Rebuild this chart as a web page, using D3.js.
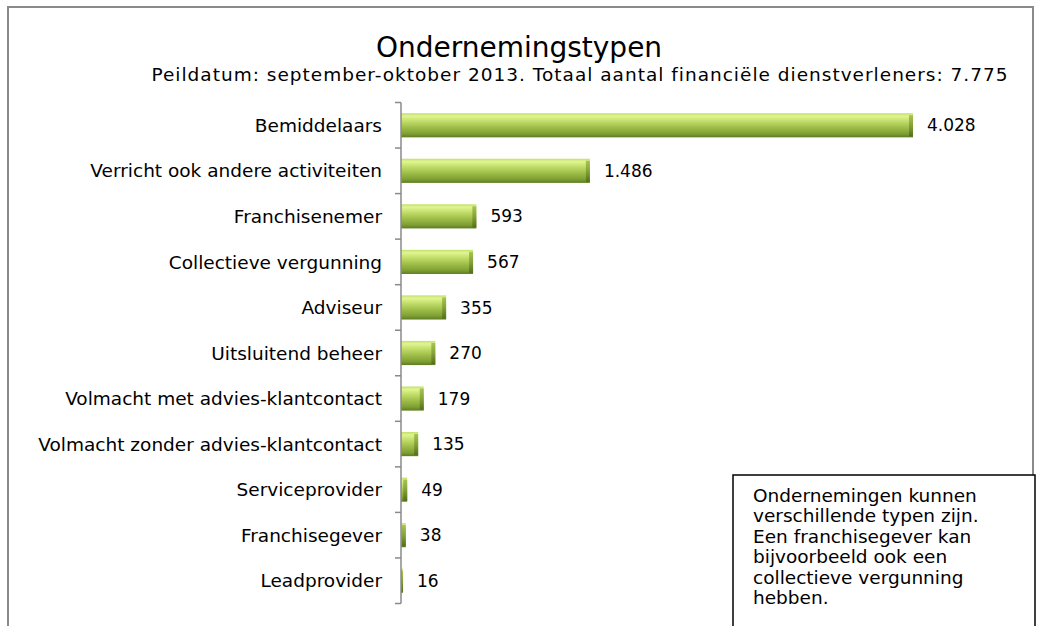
<!DOCTYPE html>
<html>
<head>
<meta charset="utf-8">
<script src="https://cdn.jsdelivr.net/npm/d3@7"></script>
<style>
  body { margin: 0; background: #fff; }
  svg text { font-family: Verdana, "DejaVu Sans", sans-serif; fill: #000; }
</style>
</head>
<body>
<svg id="chart" width="1040" height="626"></svg>
<script>
const categories = [
  "Bemiddelaars",
  "Verricht ook andere activiteiten",
  "Franchisenemer",
  "Collectieve vergunning",
  "Adviseur",
  "Uitsluitend beheer",
  "Volmacht met advies-klantcontact",
  "Volmacht zonder advies-klantcontact",
  "Serviceprovider",
  "Franchisegever",
  "Leadprovider"
];
const values = [4028, 1486, 593, 567, 355, 270, 179, 135, 49, 38, 16];
const title = "Ondernemingstypen";
const subtitle = "Peildatum: september-oktober 2013. Totaal aantal financiële dienstverleners: 7.775";
const noteLines = [
  "Ondernemingen kunnen",
  "verschillende typen zijn.",
  "Een franchisegever kan",
  "bijvoorbeeld ook een",
  "collectieve vergunning",
  "hebben."
];

const svg = d3.select("#chart");
const nl = d3.formatLocale({ decimal: ",", thousands: ".", grouping: [3], currency: ["€", ""] });
const fmt = nl.format(",d");

// outer frame (runs off the bottom of the picture)
svg.append("rect")
  .attr("x", 8).attr("y", 7)
  .attr("width", 1025).attr("height", 700)
  .attr("fill", "none")
  .attr("stroke", "#8a8a8a")
  .attr("stroke-width", 2);

svg.append("text")
  .attr("x", 519).attr("y", 57)
  .attr("text-anchor", "middle")
  .style("font-size", "28px")
  .text(title);

svg.append("text")
  .attr("x", 580).attr("y", 81)
  .attr("text-anchor", "middle")
  .style("font-size", "18.5px")
  .style("letter-spacing", "1px")
  .text(subtitle);

const y = d3.scaleBand()
  .domain(categories)
  .range([102.5, 603.5])
  .paddingInner(0.47)
  .paddingOuter(0.235);

const x = d3.scaleLinear()
  .domain([0, 4028])
  .range([401, 913]);

const defs = svg.append("defs");
const grad = defs.append("linearGradient")
  .attr("id", "barGrad")
  .attr("x1", 0).attr("y1", 0).attr("x2", 0).attr("y2", 1);
[[0, "#c4df66"], [0.12, "#e0f593"], [0.3, "#c6e16d"], [0.6, "#9dbd48"], [0.85, "#7f9f34"], [1, "#5e7c22"]]
  .forEach(([o, c]) => grad.append("stop").attr("offset", o).attr("stop-color", c));

const capGrad = defs.append("linearGradient")
  .attr("id", "capGrad")
  .attr("x1", 0).attr("y1", 0).attr("x2", 0).attr("y2", 1);
[[0, "#9cba4a"], [0.5, "#7c9b32"], [1, "#4e6a18"]]
  .forEach(([o, c]) => capGrad.append("stop").attr("offset", o).attr("stop-color", c));

const bars = svg.append("g").attr("class", "bars")
  .selectAll("g")
  .data(categories.map((c, i) => ({ name: c, value: values[i] })))
  .enter()
  .append("g");

bars.append("rect")
  .attr("x", x(0))
  .attr("y", (d) => y(d.name))
  .attr("width", (d) => x(d.value) - x(0))
  .attr("height", y.bandwidth())
  .attr("fill", "url(#barGrad)");

// darker bevelled end of each bar
bars.append("rect")
  .attr("x", (d) => Math.max(x(0), x(d.value) - 4))
  .attr("y", (d) => y(d.name) + 2)
  .attr("width", (d) => Math.min(4, x(d.value) - x(0)))
  .attr("height", y.bandwidth() - 3)
  .attr("fill", "url(#capGrad)")
  .attr("opacity", 0.85);

bars.append("text")
  .attr("x", (d) => x(d.value) + 14)
  .attr("y", (d) => y(d.name) + y.bandwidth() / 2)
  .attr("dy", "0.36em")
  .style("font-size", "17px")
  .text((d) => fmt(d.value));

// category axis: line with ticks on the band boundaries
const axis = svg.append("g").attr("class", "axis");
axis.append("line")
  .attr("x1", x(0)).attr("x2", x(0))
  .attr("y1", y.range()[0]).attr("y2", y.range()[1])
  .attr("stroke", "#8a8a8a")
  .attr("stroke-width", 1.5);

const bounds = d3.range(categories.length + 1).map((i) => y.range()[0] + i * y.step());
axis.selectAll(".tick")
  .data(bounds)
  .enter()
  .append("line")
  .attr("class", "tick")
  .attr("x1", x(0) - 6).attr("x2", x(0))
  .attr("y1", (d) => d).attr("y2", (d) => d)
  .attr("stroke", "#8a8a8a")
  .attr("stroke-width", 1.5);

axis.selectAll(".cat")
  .data(categories)
  .enter()
  .append("text")
  .attr("class", "cat")
  .attr("x", 382)
  .attr("y", (d) => y(d) + y.bandwidth() / 2)
  .attr("dy", "0.36em")
  .attr("text-anchor", "end")
  .style("font-size", "18.5px")
  .text((d) => d);

// note box (runs off the bottom)
const note = svg.append("g").attr("class", "note");
note.append("rect")
  .attr("x", 733).attr("y", 475)
  .attr("width", 302).attr("height", 200)
  .attr("fill", "#fff")
  .attr("stroke", "#000")
  .attr("stroke-width", 1.5);

note.selectAll("text")
  .data(noteLines)
  .enter()
  .append("text")
  .attr("x", 753)
  .attr("y", (d, i) => 502 + i * 20.4)
  .style("font-size", "18.5px")
  .text((d) => d);
</script>
</body>
</html>
